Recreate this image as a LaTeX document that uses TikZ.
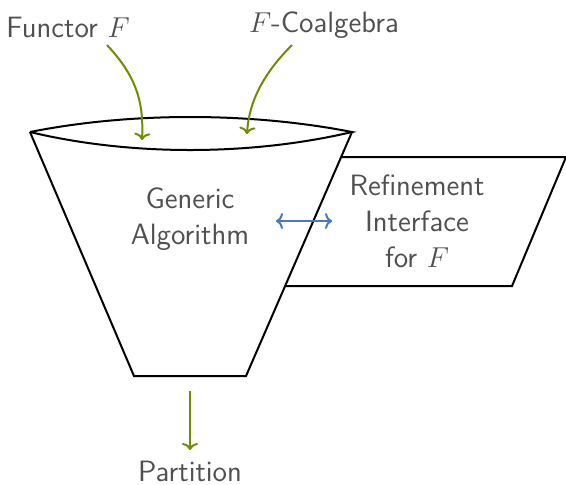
\documentclass[tikz,border=0pt]{standalone}
\usepackage{amsmath}
\usepackage{tikz}
\usetikzlibrary{arrows.meta}
\definecolor{flowgreen}{RGB}{112, 140, 0}
\definecolor{ifblue}{RGB}{72, 122, 188}
\definecolor{txtgray}{RGB}{80, 80, 80}

\begin{document}
\begin{tikzpicture}[x=0.5pt, y=-0.5pt,
    lbl/.style={font=\sffamily\fontsize{14.7}{18}\selectfont, text=txtgray, align=center, inner sep=0pt},
    flow/.style={flowgreen, line width=1pt, -{To[length=3.5pt,width=8pt]}},
    iface/.style={ifblue, line width=1pt, {To[length=3.5pt,width=8pt]}-{To[length=3.5pt,width=8pt]}}]
    \useasboundingbox (0,0) rectangle (566,484);
    % refinement interface (behind the funnel)
    \draw[line width=1pt, fill=white] (342,157) -- (566,157) -- (512,286) -- (286,286);
    % funnel
    \draw[line width=1pt, fill=white] (30,132) -- (134,376) -- (246,376) -- (352,132);
    \draw[line width=1pt] (30,132) .. controls (130,112) and (250,112) .. (352,132)
                                   .. controls (250,156) and (130,156) .. (30,132);
    \node[lbl] (algo) at (190,219) {Generic\\Algorithm};
    \node[lbl] (refine) at (417,221) {Refinement\\Interface\\for $F$};
    \node[lbl, anchor=base] (functor) at (68,37) {Functor $F$};
    \node[lbl, anchor=base] (coalg) at (324,32) {$F$-Coalgebra};
    \node[lbl, anchor=base] (part) at (190,481) {Partition};
    \coordinate (fin) at (142,140);
    \coordinate (cin) at (247,134);
    \coordinate (aout) at (190,391);
    \coordinate (ifl) at (276,221);
    \coordinate (ifr) at (332,221);
    % connectors
    \draw[flow] (107,45) .. controls (135,75) and (144,100) .. (fin);
    \draw[flow] (292,45) .. controls (265,72) and (249,100) .. (cin);
    \draw[flow] (aout) -- (190,450);
    \draw[iface] (ifl) -- (ifr);
\end{tikzpicture}
\end{document}
